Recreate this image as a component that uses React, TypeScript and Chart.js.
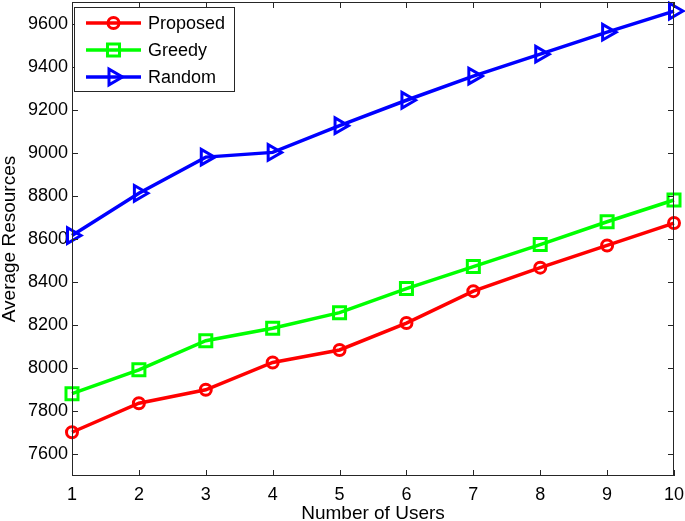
import React, { useEffect, useRef } from "react";
import { Chart, registerables } from "chart.js";

Chart.register(...registerables);

const users = ["1", "2", "3", "4", "5", "6", "7", "8", "9", "10"];
const proposed = [7703, 7838, 7900, 8027, 8085, 8210, 8358, 8467, 8570, 8674];
const greedy = [7882, 7993, 8128, 8186, 8258, 8370, 8472, 8574, 8680, 8781];
const random = [8616, 8812, 8980, 9002, 9126, 9244, 9356, 9458, 9560, 9658];
const yTicks = [7600, 7800, 8000, 8200, 8400, 8600, 8800, 9000, 9200, 9400, 9600];

const FONT = "'Liberation Sans', Arial, Helvetica, sans-serif";
const AXIS = "#262626";

const series = [
  { label: "Proposed", data: proposed, color: "#ff0000", style: "circle", radius: 5.5, rot: 0 },
  { label: "Greedy", data: greedy, color: "#00ff00", style: "rect", radius: 8.5, rot: 0 },
  { label: "Random", data: random, color: "#0000ff", style: "triangle", radius: 9, rot: 90 },
];

function drawMarker(ctx: CanvasRenderingContext2D, style: string, x: number, y: number, r: number, rot: number) {
  ctx.beginPath();
  if (style === "circle") {
    ctx.arc(x, y, r, 0, Math.PI * 2);
  } else if (style === "rect") {
    const s = Math.SQRT1_2 * r;
    ctx.rect(x - s, y - s, 2 * s, 2 * s);
  } else {
    let a = (rot * Math.PI) / 180;
    ctx.moveTo(x + Math.sin(a) * r, y - Math.cos(a) * r);
    a += (2 * Math.PI) / 3;
    ctx.lineTo(x + Math.sin(a) * r, y - Math.cos(a) * r);
    a += (2 * Math.PI) / 3;
    ctx.lineTo(x + Math.sin(a) * r, y - Math.cos(a) * r);
    ctx.closePath();
  }
  ctx.stroke();
}

const framePlugin = {
  id: "matlabFrame",
  afterDraw(chart: any) {
    const { ctx, chartArea } = chart;
    const { left, right, top, bottom } = chartArea;
    const xs = chart.scales.x;
    const ys = chart.scales.y;
    ctx.save();
    ctx.strokeStyle = AXIS;
    ctx.lineWidth = 1;
    ctx.strokeRect(left + 0.5, top + 0.5, right - left - 1, bottom - top - 1);
    const tl = 6;
    ctx.beginPath();
    for (let i = 0; i < users.length; i++) {
      const px = Math.round(xs.getPixelForValue(i)) + 0.5;
      ctx.moveTo(px, bottom);
      ctx.lineTo(px, bottom - tl);
      ctx.moveTo(px, top);
      ctx.lineTo(px, top + tl);
    }
    yTicks.forEach((v) => {
      const py = Math.round(ys.getPixelForValue(v)) + 0.5;
      ctx.moveTo(left, py);
      ctx.lineTo(left + tl, py);
      ctx.moveTo(right, py);
      ctx.lineTo(right - tl, py);
    });
    ctx.lineWidth = 1;
    ctx.strokeStyle = AXIS;
    ctx.stroke();

    // legend
    const lx = 74, ly = 7, lw = 160, lh = 84;
    ctx.fillStyle = "#ffffff";
    ctx.fillRect(lx, ly, lw, lh);
    ctx.strokeStyle = AXIS;
    ctx.lineWidth = 1;
    ctx.strokeRect(lx + 0.5, ly + 0.5, lw, lh);
    const rows = [23, 50, 77];
    ctx.font = `18px ${FONT}`;
    ctx.textBaseline = "middle";
    ctx.textAlign = "left";
    series.forEach((s, i) => {
      const y = rows[i];
      ctx.strokeStyle = s.color;
      ctx.lineWidth = 3.5;
      ctx.beginPath();
      ctx.moveTo(86, y);
      ctx.lineTo(141, y);
      ctx.stroke();
      ctx.lineWidth = 3;
      drawMarker(ctx, s.style, 113.5, y, s.radius, s.rot);
      ctx.fillStyle = "#000000";
      ctx.fillText(s.label, 148, y + 1);
    });
    ctx.restore();
  },
};

export default function App() {
  const ref = useRef<HTMLCanvasElement | null>(null);
  useEffect(() => {
    if (!ref.current) return;
    const chart = new Chart(ref.current, {
      type: "line",
      data: {
        labels: users,
        datasets: series.map((s) => ({
          label: s.label,
          data: s.data,
          borderColor: s.color,
          backgroundColor: "transparent",
          borderWidth: 3.5,
          pointStyle: s.style as any,
          pointRadius: s.radius,
          pointRotation: s.rot,
          pointBorderWidth: 3,
          pointBorderColor: s.color,
          pointBackgroundColor: "transparent",
          tension: 0,
          clip: false as any,
        })),
      },
      plugins: [framePlugin],
      options: {
        responsive: false,
        animation: false,
        layout: { autoPadding: false, padding: { top: 2, right: 11, left: 0, bottom: 0 } },
        plugins: { legend: { display: false }, tooltip: { enabled: false } },
        scales: {
          x: {
            type: "category",
            offset: false,
            grid: { display: false, drawTicks: false },
            border: { display: false },
            ticks: { autoSkip: false, maxRotation: 0, padding: 8, color: "#000", font: { family: FONT, size: 18 } },
            title: { display: true, text: "Number of Users", color: "#000", padding: { top: 0, bottom: -2 }, font: { family: FONT, size: 19, lineHeight: 1 } },
            afterFit(scale: any) {
              scale.height = 45;
              scale.paddingLeft = 0;
              scale.paddingRight = 0;
            },
          },
          y: {
            type: "linear",
            min: 7500,
            max: 9700,
            grid: { display: false, drawTicks: false },
            border: { display: false },
            afterBuildTicks(scale: any) {
              scale.ticks = yTicks.map((v) => ({ value: v }));
            },
            ticks: { padding: 4, color: "#000", font: { family: FONT, size: 18 }, callback: (v: any) => String(v) },
            title: { display: true, text: "Average Resources", color: "#000", padding: { top: 0, bottom: 0 }, font: { family: FONT, size: 19, lineHeight: 1 } },
            afterFit(scale: any) {
              scale.width = 72;
              scale.paddingTop = 0;
              scale.paddingBottom = 0;
            },
          },
        },
      },
    });
    return () => chart.destroy();
  }, []);
  return (
    <div style={{ position: "absolute", left: 0, top: 0, width: 685, height: 521 }}>
      <canvas ref={ref} width={685} height={521} style={{ display: "block" }} />
    </div>
  );
}
